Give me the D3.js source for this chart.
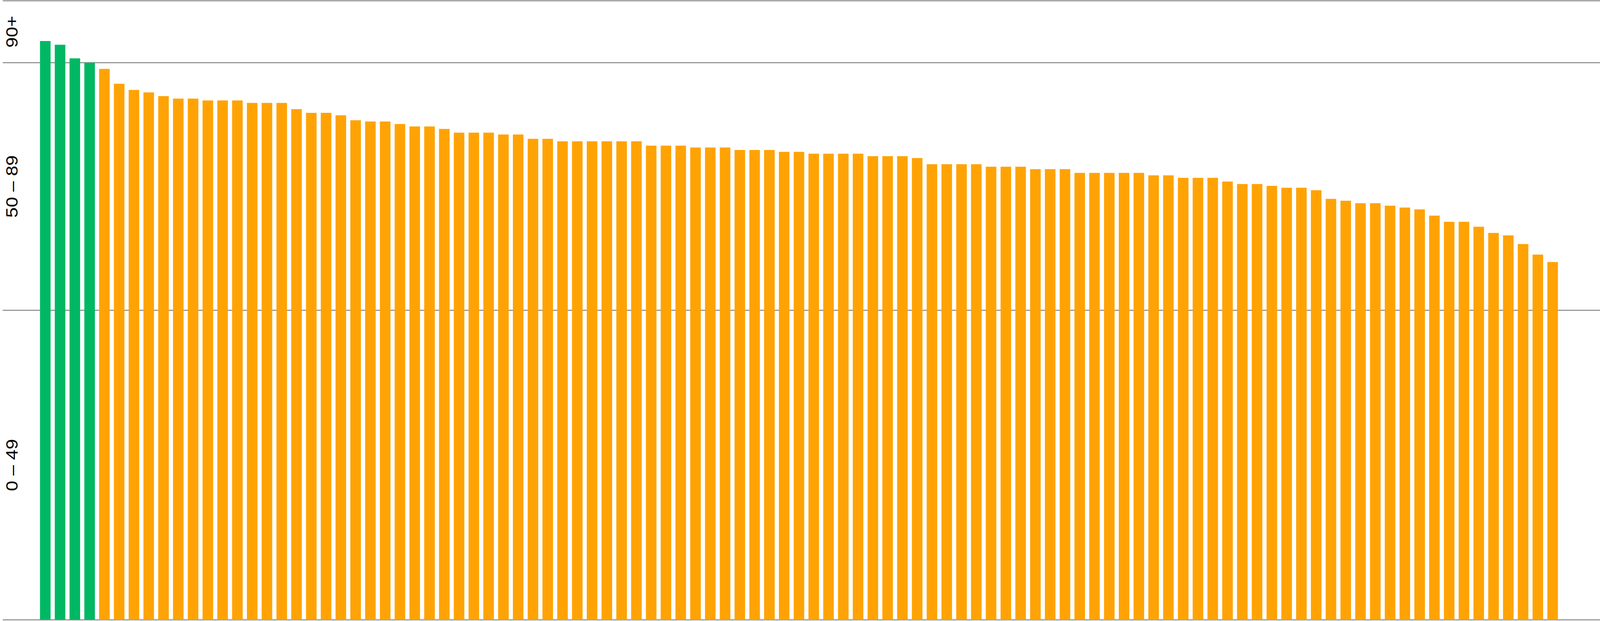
<!DOCTYPE html>
<meta charset="utf-8">
<style>
html, body { margin: 0; padding: 0; background: #fff; overflow: hidden; }
#chart svg { display: block; width: 100vw; height: 100vh; }
.grid line { stroke: #999; stroke-width: 3px; }
.band-label { font-family: "Liberation Sans", Arial, sans-serif; font-size: 48px; fill: #000; }
</style>
<body>
<div id="chart"></div>
<script src="https://d3js.org/d3.v7.min.js"></script>
<script>

// scores, already sorted high to low
var scores = [
  93.5, 92.9, 90.7, 90.0, 89.0, 86.6, 85.6, 85.2, 84.6, 84.2,
  84.2, 83.9, 83.9, 83.9, 83.5, 83.5, 83.5, 82.5, 81.9, 81.9,
  81.5, 80.7, 80.5, 80.5, 80.1, 79.7, 79.7, 79.3, 78.7, 78.7,
  78.7, 78.4, 78.4, 77.7, 77.7, 77.3, 77.3, 77.3, 77.3, 77.3,
  77.3, 76.6, 76.6, 76.6, 76.3, 76.3, 76.3, 75.9, 75.9, 75.9,
  75.6, 75.6, 75.3, 75.3, 75.3, 75.3, 74.9, 74.9, 74.9, 74.6,
  73.6, 73.6, 73.6, 73.6, 73.2, 73.2, 73.2, 72.8, 72.8, 72.8,
  72.2, 72.2, 72.2, 72.2, 72.2, 71.8, 71.8, 71.4, 71.4, 71.4,
  70.8, 70.4, 70.4, 70.1, 69.8, 69.8, 69.4, 68.0, 67.7, 67.3,
  67.3, 66.9, 66.6, 66.3, 65.3, 64.3, 64.3, 63.5, 62.5, 62.1,
  60.7, 59.0, 57.8
];

// score bands shown on the left
var bandEdges  = [0, 50, 90, 100];
var bandLabels = ["0 \u2013 49", "50 \u2013 89", "90+"];
var bandColors = ["#ffa305", "#ffa305", "#00b863"];

var width  = 4600,
    height = 1590;

// drawn in 4600x1590 units and stretched to the window
var svg = d3.select("#chart").append("svg")
    .attr("viewBox", "0 0 " + width + " " + height)
    .attr("preserveAspectRatio", "none");

var x = d3.scaleBand()
    .domain(d3.range(scores.length))
    .range([115, 4479])
    .paddingInner(0.285)
    .paddingOuter(0);

var y = d3.scaleLinear()
    .domain([0, 100])
    .range([1587, 2]);

var colour = d3.scaleThreshold()
    .domain([50, 90])
    .range(bandColors);

// horizontal rules at band edges
svg.append("g")
    .attr("class", "grid")
  .selectAll("line")
    .data(bandEdges)
    .enter().append("line")
    .attr("x1", 8)
    .attr("x2", width)
    .attr("y1", d => y(d))
    .attr("y2", d => y(d));

svg.append("g")
  .selectAll("rect")
    .data(scores)
    .enter().append("rect")
    .attr("x", (d, i) => x(i))
    .attr("width", x.bandwidth())
    .attr("y", d => y(d))
    .attr("height", d => y(0) - y(d))
    .attr("fill", d => colour(d));

svg.append("g")
  .selectAll("text")
    .data(bandLabels)
    .enter().append("text")
    .attr("class", "band-label")
    .attr("text-anchor", "middle")
    .attr("transform", function(d, i) {
        var cy = (y(bandEdges[i]) + y(bandEdges[i + 1])) / 2;
        return "translate(51," + cy + ") rotate(-90)";
    })
    .text(d => d);

</script>
